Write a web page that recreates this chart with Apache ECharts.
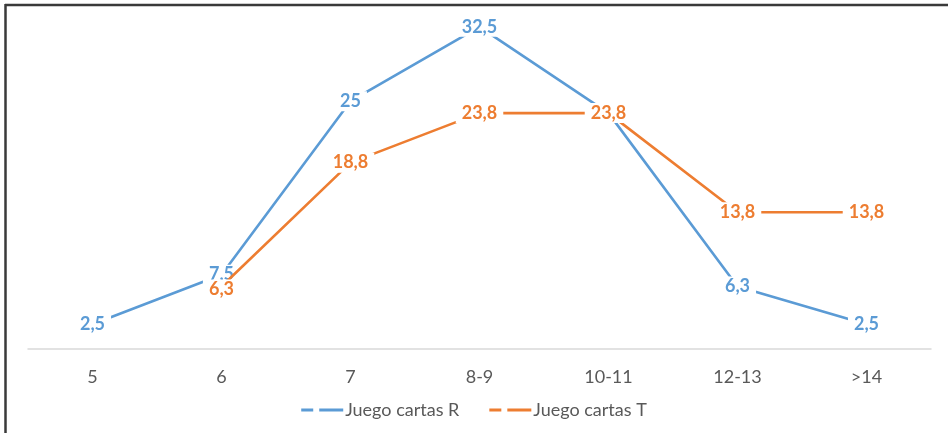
<!DOCTYPE html>
<html><head><meta charset="utf-8">
<script src="https://cdn.jsdelivr.net/npm/echarts@6/dist/echarts.min.js"></script>
<style>html,body{margin:0;padding:0;background:#fff}#c{width:948px;height:433px}</style>
</head><body><div id="c"></div>
<script>
const categories = ['5', '6', '7', '8-9', '10-11', '12-13', '>14'];
const seriesRName = 'Juego cartas R';
const seriesRValues = [2.5, 7.5, 25, 32.5, 23.8, 6.3, 2.5];
const seriesTName = 'Juego cartas T';
const seriesTValues = [null, 6.3, 18.8, 23.8, 23.8, 13.8, 13.8];

const chart = echarts.init(document.getElementById('c'));
const fmt = p => String(p.value).replace('.', ',');
const icon = 'path://M0,0H12V3H0Z M18,0H42V3H18Z';
function mk(name, data, color, offsets, z) {
  return {
    name, type: 'line', symbol: 'circle', symbolSize: 0.01, showSymbol: true, connectNulls: false,
    lineStyle: { color, width: 2.6 }, itemStyle: { color },
    label: {
      show: true, position: 'inside', formatter: fmt, color,
      fontFamily: 'Lato', fontWeight: 'bold', fontSize: 18,
      backgroundColor: '#fff', padding: [2, 6, 0, 6]
    },
    data: data.map((v, i) => offsets && offsets[i] ? { value: v, label: { offset: offsets[i] } } : v),
    z
  };
}
chart.setOption({
  animation: false,
  backgroundColor: '#fff',
  textStyle: { fontFamily: 'Lato' },
  grid: { left: 28, right: 17, top: 12, bottom: 84 },
  legend: {
    bottom: 9, left: 'center', itemGap: 30, itemWidth: 42, itemHeight: 3,
    data: [{ name: seriesRName, icon }, { name: seriesTName, icon }],
    textStyle: { color: '#595959', fontSize: 18, fontFamily: 'Lato', padding: [0, 0, 0, -3] }
  },
  xAxis: {
    type: 'category', data: categories, boundaryGap: true,
    axisLine: { lineStyle: { color: '#d9d9d9', width: 1.5 } },
    axisTick: { show: false },
    axisLabel: { color: '#595959', fontSize: 18, margin: 19, fontFamily: 'Lato' }
  },
  yAxis: { type: 'value', min: 0, max: 34, show: false, splitLine: { show: false } },
  series: [
    mk(seriesRName, seriesRValues, '#5B9BD5', null, 2),
    mk(seriesTName, seriesTValues, '#ED7D31', [null, [0, 3]], 3)
  ],
  graphic: [
    { type: 'line', shape: { x1: 5, y1: 5, x2: 948, y2: 5 }, style: { stroke: '#3a3a3a', lineWidth: 2.5 } },
    { type: 'line', shape: { x1: 5.5, y1: 4, x2: 5.5, y2: 433 }, style: { stroke: '#3a3a3a', lineWidth: 2.5 } }
  ]
});
</script></body></html>
